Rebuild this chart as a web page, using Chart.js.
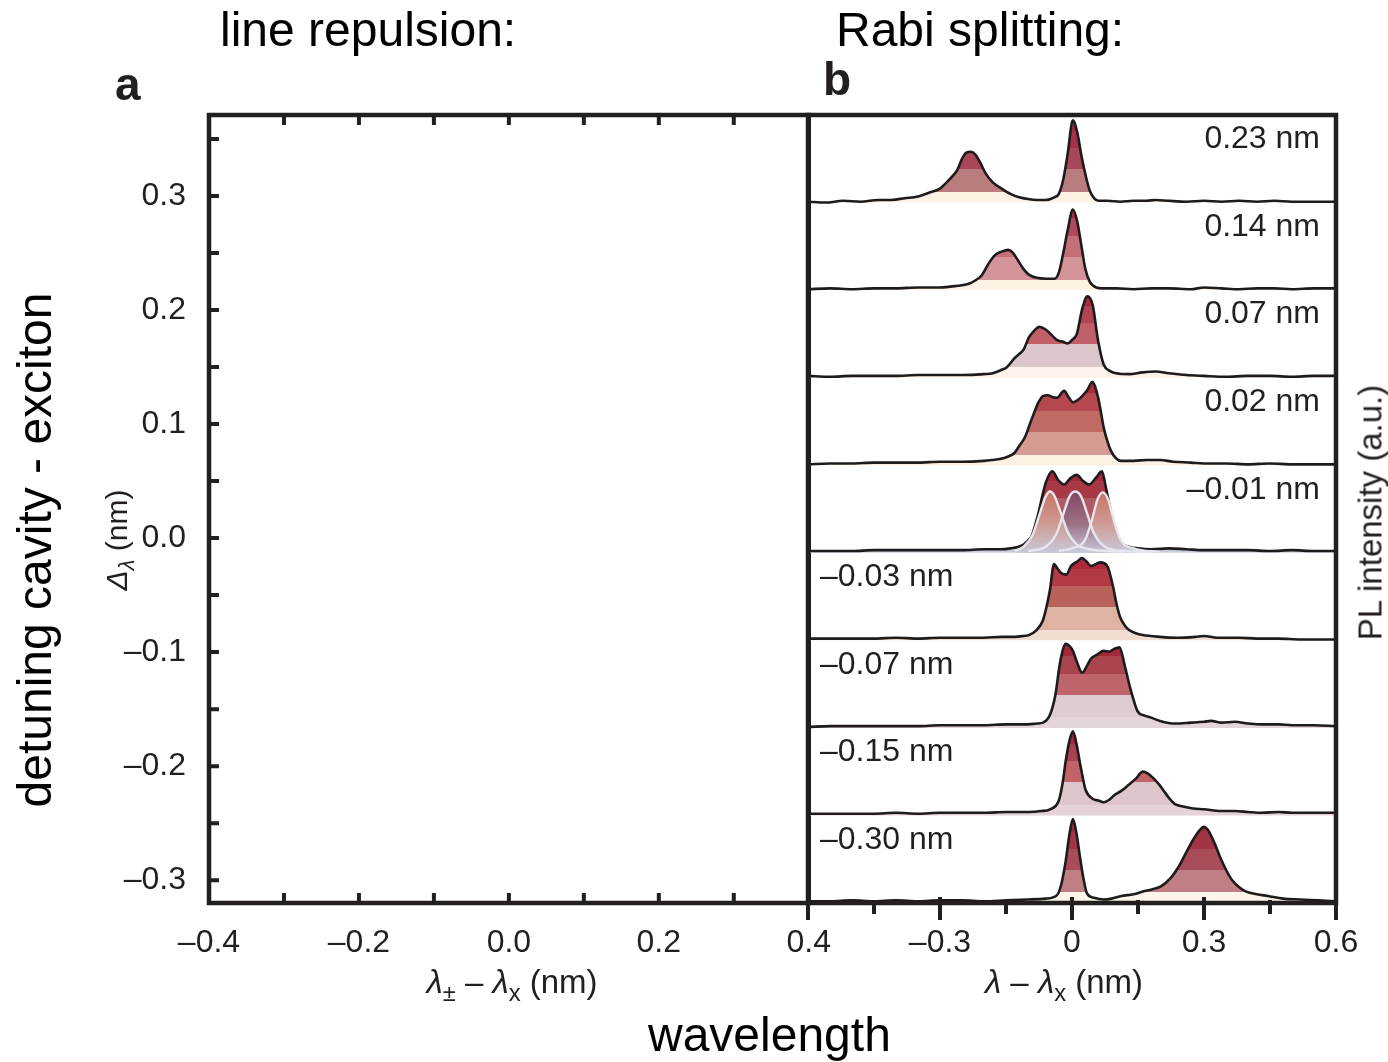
<!DOCTYPE html>
<html>
<head>
<meta charset="utf-8">
<script src="https://cdn.jsdelivr.net/npm/chart.js@4.4.1/dist/chart.umd.min.js"></script>
<style>
  html, body { margin: 0; padding: 0; background: #fff; }
  body { width: 1388px; height: 1062px; position: relative; overflow: hidden;
         font-family: "Liberation Sans", Arial, sans-serif; }
  .box { position: absolute; }
  .txt { position: absolute; white-space: nowrap; line-height: 1; color: #000; }
  .ink { color: #231f20; }
  .rot { transform: rotate(-90deg); transform-origin: center center; text-align: center; }
  sub { font-size: 0.72em; vertical-align: -0.32em; line-height: 0; }
</style>
</head>
<body>
<div class="box" style="left:0;top:0;width:844px;height:1062px"><canvas id="chartA"></canvas></div>
<div class="box" style="left:790px;top:0;width:598px;height:1062px"><canvas id="chartB"></canvas></div>

<div class="txt" style="left:220px;top:6px;font-size:48px">line repulsion:</div>
<div class="txt" style="left:836px;top:6px;font-size:48px">Rabi splitting:</div>
<div class="txt ink" style="left:115px;top:61px;font-size:46px;font-weight:bold">a</div>
<div class="txt ink" style="left:823px;top:56px;font-size:46px;font-weight:bold">b</div>
<div class="txt" style="left:648px;top:1011px;font-size:48px">wavelength</div>
<div class="txt rot" style="left:-265px;top:526px;width:600px;font-size:48px">detuning cavity - exciton</div>
<div class="txt ink rot" style="left:17px;top:525px;width:200px;font-size:30px"><i>Δ</i><sub><i>λ</i></sub> (nm)</div>
<div class="txt ink rot" style="left:1220px;top:496px;width:300px;font-size:33px">PL intensity (a.u.)</div>
<div class="txt ink" style="left:312px;top:965px;width:400px;text-align:center;font-size:33px"><i>λ</i><sub>±</sub> – <i>λ</i><sub>x</sub> (nm)</div>
<div class="txt ink" style="left:864px;top:965px;width:400px;text-align:center;font-size:33px"><i>λ</i> – <i>λ</i><sub>x</sub> (nm)</div>

<script>
// PL spectra, [lambda - lambda_x (nm), intensity in units of one panel height]
const spec023 = [[-0.6,0.01],[-0.56,0.0],[-0.52,0.02],[-0.48,0.01],[-0.44,0.03],[-0.41,0.03],[-0.38,0.05],[-0.35,0.07],[-0.326,0.11],[-0.30,0.16],[-0.285,0.23],[-0.27,0.31],[-0.26,0.38],[-0.25,0.5],[-0.24,0.57],[-0.23,0.58],[-0.22,0.55],[-0.21,0.47],[-0.196,0.33],[-0.18,0.23],[-0.16,0.16],[-0.14,0.1],[-0.12,0.06],[-0.10,0.04],[-0.08,0.03],[-0.06,0.03],[-0.04,0.06],[-0.03,0.1],[-0.02,0.26],[-0.01,0.55],[0.002,0.94],[0.012,0.8],[0.022,0.52],[0.03,0.33],[0.04,0.14],[0.05,0.05],[0.06,0.02],[0.08,0.02],[0.11,0.01],[0.14,0.02],[0.17,0.02],[0.19,0.03],[0.22,0.02],[0.26,0.01],[0.30,0.02],[0.34,0.01],[0.38,0.02],[0.42,0.01],[0.46,0.02],[0.50,0.01],[0.55,0.01],[0.6,0.01]];
const spec014 = [[-0.6,0.01],[-0.55,0.02],[-0.5,0.01],[-0.45,0.02],[-0.4,0.02],[-0.35,0.03],[-0.3,0.03],[-0.26,0.05],[-0.236,0.07],[-0.22,0.11],[-0.205,0.17],[-0.19,0.3],[-0.175,0.4],[-0.16,0.44],[-0.145,0.46],[-0.135,0.43],[-0.123,0.34],[-0.11,0.24],[-0.099,0.18],[-0.08,0.14],[-0.06,0.13],[-0.04,0.13],[-0.03,0.2],[-0.02,0.42],[-0.01,0.68],[0.002,0.92],[0.012,0.78],[0.02,0.55],[0.03,0.25],[0.04,0.1],[0.055,0.03],[0.07,0.02],[0.1,0.02],[0.14,0.01],[0.18,0.02],[0.22,0.02],[0.27,0.01],[0.3,0.03],[0.34,0.02],[0.38,0.01],[0.42,0.02],[0.46,0.02],[0.5,0.01],[0.55,0.02],[0.6,0.02]];
const spec007 = [[-0.6,0.02],[-0.55,0.01],[-0.5,0.02],[-0.45,0.02],[-0.4,0.02],[-0.35,0.03],[-0.3,0.03],[-0.25,0.03],[-0.2,0.04],[-0.18,0.05],[-0.16,0.09],[-0.148,0.12],[-0.131,0.22],[-0.12,0.27],[-0.11,0.32],[-0.098,0.46],[-0.085,0.54],[-0.075,0.58],[-0.06,0.55],[-0.045,0.48],[-0.034,0.43],[-0.02,0.41],[-0.01,0.39],[0.0,0.43],[0.011,0.5],[0.023,0.78],[0.035,0.93],[0.047,0.83],[0.059,0.43],[0.072,0.15],[0.085,0.08],[0.1,0.05],[0.13,0.04],[0.16,0.06],[0.19,0.07],[0.22,0.05],[0.26,0.03],[0.3,0.02],[0.35,0.01],[0.4,0.02],[0.45,0.02],[0.5,0.01],[0.55,0.02],[0.6,0.02]];
const spec002 = [[-0.6,0.01],[-0.55,0.02],[-0.5,0.02],[-0.45,0.03],[-0.4,0.03],[-0.35,0.03],[-0.3,0.04],[-0.25,0.04],[-0.2,0.05],[-0.18,0.06],[-0.164,0.07],[-0.145,0.1],[-0.131,0.14],[-0.12,0.22],[-0.107,0.32],[-0.095,0.48],[-0.086,0.6],[-0.076,0.72],[-0.066,0.79],[-0.055,0.8],[-0.045,0.78],[-0.034,0.77],[-0.018,0.85],[-0.008,0.78],[0.002,0.72],[0.012,0.74],[0.023,0.79],[0.035,0.86],[0.046,0.95],[0.059,0.78],[0.066,0.6],[0.072,0.43],[0.08,0.28],[0.088,0.17],[0.1,0.08],[0.112,0.05],[0.14,0.05],[0.17,0.06],[0.2,0.06],[0.23,0.04],[0.27,0.03],[0.3,0.02],[0.35,0.02],[0.4,0.01],[0.45,0.02],[0.5,0.01],[0.55,0.01],[0.6,0.01]];
const specM001 = [[-0.6,0.02],[-0.55,0.02],[-0.5,0.02],[-0.45,0.03],[-0.4,0.03],[-0.35,0.03],[-0.3,0.03],[-0.25,0.03],[-0.2,0.04],[-0.164,0.04],[-0.14,0.05],[-0.115,0.08],[-0.1,0.14],[-0.091,0.2],[-0.083,0.33],[-0.075,0.48],[-0.066,0.68],[-0.059,0.81],[-0.045,0.93],[-0.03,0.82],[-0.018,0.78],[-0.004,0.85],[0.011,0.89],[0.025,0.82],[0.039,0.78],[0.055,0.86],[0.068,0.93],[0.078,0.72],[0.088,0.48],[0.096,0.3],[0.104,0.19],[0.115,0.1],[0.129,0.07],[0.15,0.05],[0.18,0.04],[0.22,0.05],[0.26,0.04],[0.3,0.03],[0.35,0.03],[0.4,0.03],[0.45,0.02],[0.5,0.03],[0.55,0.02],[0.6,0.02]];
const specM003 = [[-0.6,0.02],[-0.55,0.02],[-0.5,0.02],[-0.45,0.02],[-0.4,0.03],[-0.35,0.02],[-0.3,0.03],[-0.25,0.03],[-0.2,0.03],[-0.16,0.04],[-0.13,0.04],[-0.11,0.05],[-0.098,0.06],[-0.08,0.12],[-0.066,0.23],[-0.058,0.38],[-0.05,0.58],[-0.041,0.87],[-0.033,0.82],[-0.025,0.77],[-0.013,0.75],[-0.002,0.85],[0.012,0.9],[0.023,0.94],[0.033,0.9],[0.043,0.85],[0.054,0.87],[0.064,0.89],[0.08,0.85],[0.093,0.62],[0.101,0.42],[0.109,0.27],[0.12,0.17],[0.129,0.12],[0.145,0.08],[0.161,0.06],[0.2,0.04],[0.24,0.03],[0.28,0.04],[0.3,0.05],[0.33,0.03],[0.38,0.03],[0.42,0.02],[0.47,0.02],[0.52,0.01],[0.56,0.01],[0.6,0.01]];
const specM007 = [[-0.6,0.01],[-0.55,0.02],[-0.5,0.02],[-0.45,0.02],[-0.4,0.02],[-0.35,0.02],[-0.3,0.03],[-0.25,0.03],[-0.2,0.03],[-0.15,0.04],[-0.1,0.04],[-0.08,0.05],[-0.066,0.06],[-0.05,0.15],[-0.038,0.37],[-0.027,0.75],[-0.014,0.96],[-0.005,0.93],[0.002,0.88],[0.012,0.74],[0.023,0.63],[0.033,0.7],[0.043,0.79],[0.058,0.84],[0.072,0.88],[0.085,0.87],[0.095,0.9],[0.108,0.92],[0.12,0.71],[0.13,0.5],[0.137,0.37],[0.149,0.19],[0.165,0.14],[0.178,0.12],[0.2,0.08],[0.234,0.05],[0.27,0.06],[0.3,0.07],[0.316,0.08],[0.34,0.06],[0.37,0.07],[0.4,0.05],[0.437,0.04],[0.47,0.04],[0.5,0.03],[0.55,0.03],[0.6,0.02]];
const specM015 = [[-0.6,0.02],[-0.55,0.02],[-0.5,0.02],[-0.45,0.02],[-0.4,0.03],[-0.35,0.02],[-0.3,0.03],[-0.25,0.03],[-0.2,0.03],[-0.15,0.04],[-0.1,0.04],[-0.07,0.05],[-0.05,0.07],[-0.03,0.17],[-0.022,0.35],[-0.014,0.63],[-0.006,0.85],[0.002,0.96],[0.01,0.82],[0.018,0.6],[0.025,0.42],[0.031,0.29],[0.047,0.19],[0.06,0.17],[0.072,0.15],[0.085,0.18],[0.096,0.23],[0.112,0.28],[0.129,0.35],[0.145,0.42],[0.161,0.5],[0.172,0.48],[0.186,0.42],[0.2,0.34],[0.21,0.27],[0.222,0.19],[0.234,0.13],[0.255,0.1],[0.275,0.08],[0.3,0.07],[0.339,0.05],[0.37,0.05],[0.4,0.04],[0.43,0.03],[0.47,0.04],[0.5,0.03],[0.55,0.03],[0.6,0.03]];
const specM030 = [[-0.6,0.02],[-0.55,0.02],[-0.5,0.03],[-0.45,0.02],[-0.4,0.03],[-0.35,0.02],[-0.3,0.03],[-0.25,0.03],[-0.2,0.02],[-0.15,0.03],[-0.1,0.04],[-0.06,0.05],[-0.034,0.09],[-0.024,0.22],[-0.014,0.49],[-0.006,0.78],[0.002,0.96],[0.01,0.8],[0.018,0.53],[0.026,0.28],[0.034,0.11],[0.05,0.06],[0.072,0.04],[0.09,0.05],[0.112,0.08],[0.14,0.1],[0.161,0.13],[0.185,0.16],[0.202,0.19],[0.225,0.29],[0.243,0.42],[0.26,0.58],[0.275,0.72],[0.29,0.83],[0.299,0.87],[0.308,0.84],[0.316,0.77],[0.326,0.66],[0.336,0.53],[0.35,0.38],[0.364,0.26],[0.38,0.18],[0.396,0.13],[0.42,0.1],[0.445,0.08],[0.48,0.05],[0.518,0.04],[0.56,0.03],[0.6,0.02]];

// three fitted components drawn on the -0.01 nm spectrum
const fitLeft = [[-0.13,0.02],[-0.11,0.07],[-0.09,0.2],[-0.075,0.42],[-0.06,0.64],[-0.05,0.70],[-0.04,0.65],[-0.025,0.45],[-0.01,0.24],[0.01,0.1],[0.04,0.04],[0.08,0.02],[0.12,0.01]];
const fitCenter = [[-0.10,0.02],[-0.06,0.07],[-0.035,0.22],[-0.02,0.44],[-0.005,0.65],[0.007,0.70],[0.02,0.65],[0.035,0.44],[0.05,0.22],[0.075,0.07],[0.12,0.02],[0.18,0.01]];
const fitRight = [[-0.03,0.02],[0.0,0.05],[0.03,0.15],[0.045,0.37],[0.058,0.61],[0.07,0.69],[0.082,0.61],[0.095,0.37],[0.11,0.15],[0.14,0.05],[0.2,0.01]];

const spectra = [spec023, spec014, spec007, spec002, specM001, specM003, specM007, specM015, specM030];
const detuningLabels = ['0.23 nm', '0.14 nm', '0.07 nm', '0.02 nm', '\u20130.01 nm', '\u20130.03 nm', '\u20130.07 nm', '\u20130.15 nm', '\u20130.30 nm'];

// colour bands under each spectrum, bottom to top
const stripeColors = [
    ['#fdf1e3', '#b97d80', '#a9475a', '#a33248', '#9e2a40'],
    ['#fdf1e3', '#d39399', '#c66f7a', '#b0495b', '#a6293f'],
    ['#fdf3ea', '#dcc7ca', '#c15f68', '#b04455', '#a82a3c'],
    ['#fdf1e3', '#d49c92', '#c06a66', '#b5474f', '#b02a3a'],
    ['#c9ccdb', '#b98c9a', '#b05a66', '#a83846', '#a62a3a'],
    ['#f2ddd2', '#dfb3a4', '#b9625c', '#b23a44', '#ad2a3a'],
    ['#e3d5d9', '#dcccd2', '#c0646b', '#a8454f', '#a3283a'],
    ['#e4d2d6', '#dcc6ca', '#c2636a', '#a9404f', '#a32a3e'],
    ['#fdf4ea', '#bf7f85', '#a94c5a', '#a33448', '#9e2a40']
];
const stripeLevels = [0, 0.12, 0.38, 0.62, 0.82, 1];

const ink = '#231f20';
const dash = '\u2013';
Chart.defaults.font.family = '"Liberation Sans", Arial, sans-serif';

function fmt(v, digits, zero) {
    if (Math.abs(v) < 1e-9) return zero;
    const s = Math.abs(v).toFixed(digits);
    return v < 0 ? dash + s : s;
}

function stripeFill(colors, off) {
    return (ctx) => {
        const chart = ctx.chart;
        const ys = chart.scales.y;
        if (!chart.chartArea || !ys) return colors[0];
        const g = chart.ctx.createLinearGradient(0, ys.getPixelForValue(off), 0, ys.getPixelForValue(off + 1));
        colors.forEach((c, i) => {
            g.addColorStop(stripeLevels[i], c);
            g.addColorStop(stripeLevels[i + 1], c);
        });
        return g;
    };
}

function fadeFill(top, mid, off) {
    return (ctx) => {
        const chart = ctx.chart;
        const ys = chart.scales.y;
        if (!chart.chartArea || !ys) return top;
        const g = chart.ctx.createLinearGradient(0, ys.getPixelForValue(off + 0.72), 0, ys.getPixelForValue(off));
        g.addColorStop(0, top);
        g.addColorStop(0.55, mid);
        g.addColorStop(1, '#c6c9da');
        return g;
    };
}

// panel a: empty frame with inward ticks
const frameA = {
    id: 'frameA',
    afterDraw(chart) {
        const { ctx, chartArea: a, scales } = chart;
        ctx.save();
        ctx.strokeStyle = ink;
        ctx.lineWidth = 4;
        ctx.beginPath();
        scales.x.ticks.forEach(t => {
            if (t.value <= -0.4 + 1e-6 || t.value >= 0.4 - 1e-6) return;
            const x = scales.x.getPixelForValue(t.value);
            ctx.moveTo(x, a.bottom); ctx.lineTo(x, a.bottom - 10);
            ctx.moveTo(x, a.top); ctx.lineTo(x, a.top + 10);
        });
        scales.y.ticks.forEach(t => {
            const y = scales.y.getPixelForValue(t.value);
            ctx.moveTo(a.left, y); ctx.lineTo(a.left + 10, y);
        });
        ctx.stroke();
        ctx.lineWidth = 4.5;
        ctx.strokeRect(a.left, a.top, a.right - a.left, a.bottom - a.top);
        ctx.restore();
    }
};

// panel b: labels, crossing ticks and frame
const frameB = {
    id: 'frameB',
    afterDatasetsDraw(chart) {
        const { ctx, chartArea: a, scales } = chart;
        ctx.save();
        ctx.font = '32px "Liberation Sans", Arial, sans-serif';
        ctx.fillStyle = ink;
        ctx.textBaseline = 'middle';
        detuningLabels.forEach((t, i) => {
            const y = scales.y.getPixelForValue(offsets[i] + 0.72);
            if (i < 5) { ctx.textAlign = 'right'; ctx.fillText(t, a.right - 16, y); }
            else { ctx.textAlign = 'left'; ctx.fillText(t, a.left + 12, y); }
        });
        ctx.strokeStyle = ink;
        ctx.lineWidth = 4;
        ctx.beginPath();
        scales.x.ticks.forEach(t => {
            const k = Math.round(t.value / 0.15);
            const x = scales.x.getPixelForValue(t.value);
            if (k % 2 === 0) { ctx.moveTo(x, a.bottom - 6); ctx.lineTo(x, a.bottom + 17); }
            else { ctx.moveTo(x, a.bottom - 3); ctx.lineTo(x, a.bottom + 11); }
        });
        ctx.stroke();
        ctx.lineWidth = 4.5;
        ctx.strokeRect(a.left, a.top, a.right - a.left, a.bottom - a.top);
        ctx.restore();
    }
};

new Chart(document.getElementById('chartA'), {
    type: 'scatter',
    data: { datasets: [] },
    options: {
        responsive: true,
        maintainAspectRatio: false,
        animation: false,
        layout: { autoPadding: false, padding: { left: 0, right: 22, top: 115, bottom: 0 } },
        plugins: { legend: { display: false }, tooltip: { enabled: false } },
        scales: {
            x: {
                type: 'linear', min: -0.4, max: 0.4,
                grid: { display: false }, border: { display: false },
                ticks: {
                    stepSize: 0.1, autoSkip: false, maxRotation: 0, padding: 13,
                    font: { size: 32 }, color: ink,
                    callback: v => (Math.round(v / 0.1) % 2 === 0 ? fmt(v, 1, '0.0') : '')
                },
                afterFit: s => { s.height = 159; }
            },
            y: {
                type: 'linear', min: -0.32, max: 0.371,
                grid: { display: false }, border: { display: false },
                ticks: {
                    stepSize: 0.05, includeBounds: false, autoSkip: false, padding: 15,
                    font: { size: 32 }, color: ink,
                    callback: v => (Math.round(v / 0.05) % 2 === 0 ? fmt(v, 1, '0.0') : '')
                },
                afterFit: s => { s.width = 209; }
            }
        }
    },
    plugins: [frameA]
});

// stack spectra: top spectrum sits highest
const offsets = spectra.map((s, i) => spectra.length - 1 - i);
const datasetsB = spectra.map((s, i) => ({
    data: s.map(p => ({ x: p[0], y: p[1] + offsets[i] })),
    borderColor: '#1d1b1b',
    borderWidth: 2.6,
    pointRadius: 0,
    cubicInterpolationMode: 'monotone',
    fill: { target: { value: offsets[i] } },
    backgroundColor: stripeFill(stripeColors[i], offsets[i]),
    order: 3
}));

const fitOff = offsets[4];
const fits = [fitLeft, fitCenter, fitRight];
const fitTops = [['#c7705f', '#cf9c94'], ['#82425d', '#9d7388'], ['#c7705f', '#cf9c94']];
fits.forEach((f, j) => {
    datasetsB.push({
        data: f.map(p => ({ x: p[0], y: p[1] + fitOff })),
        borderWidth: 0,
        pointRadius: 0,
        cubicInterpolationMode: 'monotone',
        fill: { target: { value: fitOff } },
        backgroundColor: fadeFill(fitTops[j][0], fitTops[j][1], fitOff),
        order: 2
    });
});
fits.forEach(f => {
    datasetsB.push({
        data: f.map(p => ({ x: p[0], y: p[1] + fitOff })),
        borderColor: '#e6e6ee',
        borderWidth: 2.4,
        pointRadius: 0,
        cubicInterpolationMode: 'monotone',
        fill: false,
        order: 1
    });
});

new Chart(document.getElementById('chartB'), {
    type: 'line',
    data: { datasets: datasetsB },
    options: {
        responsive: true,
        maintainAspectRatio: false,
        animation: false,
        layout: { autoPadding: false, padding: { left: 18, right: 52, top: 115, bottom: 0 } },
        plugins: { legend: { display: false }, tooltip: { enabled: false } },
        scales: {
            x: {
                type: 'linear', min: -0.6, max: 0.6,
                grid: { display: false }, border: { display: false },
                ticks: {
                    stepSize: 0.15, autoSkip: false, maxRotation: 0, padding: 13,
                    font: { size: 32 }, color: ink,
                    callback: v => {
                        const k = Math.round(v / 0.15);
                        return (k % 2 === 0 && k !== -4) ? fmt(v, 1, '0') : '';
                    }
                },
                afterFit: s => { s.height = 159; }
            },
            y: { type: 'linear', min: 0, max: 9, display: false }
        }
    },
    plugins: [frameB]
});
</script>
</body>
</html>
